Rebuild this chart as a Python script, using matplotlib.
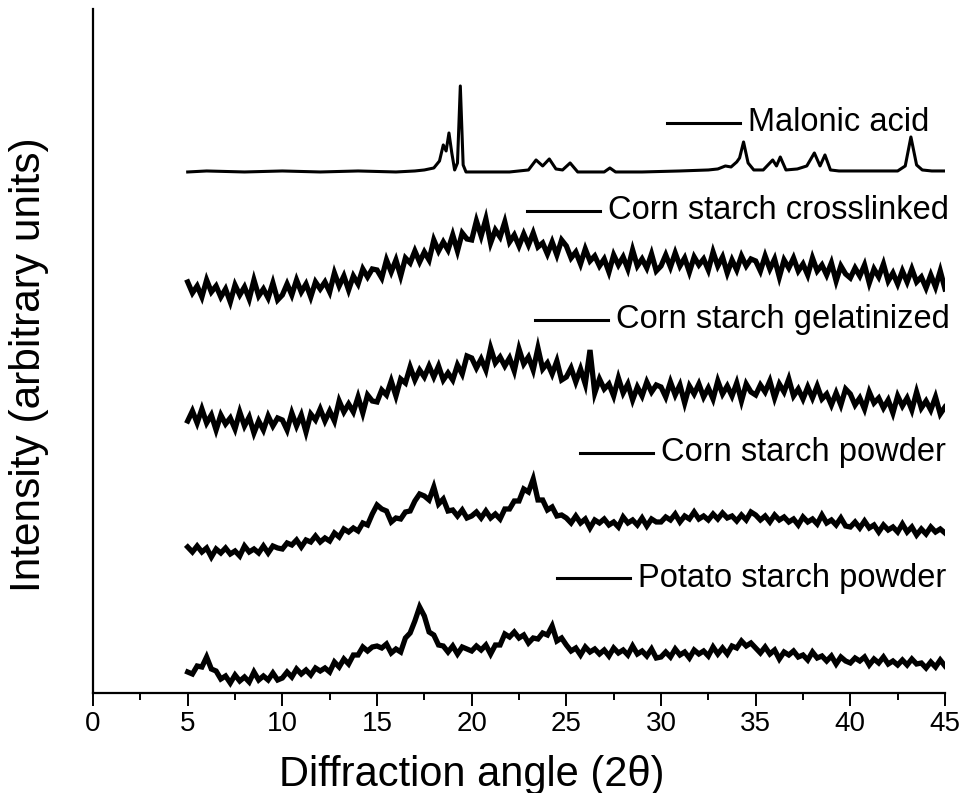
import numpy as np
import matplotlib
matplotlib.use("Agg")
import matplotlib.pyplot as plt

plt.rcParams['font.family'] = ['Liberation Sans', 'DejaVu Sans']

# Malonic acid (sharp peaks, irregular sampling)
malonic_x = [5, 6, 8, 10, 12, 14, 16, 17, 17.5, 18.0, 18.3, 18.5, 18.65, 18.8, 18.95, 19.1,
             19.25, 19.4, 19.55, 19.7, 20.0, 22.0, 23.0, 23.4, 23.75, 24.1, 24.45, 24.8, 25.2,
             25.6, 26.5, 27.0, 27.3, 27.6, 29, 31, 32.5, 33.0, 33.4, 33.7, 34.0, 34.15, 34.36,
             34.6, 34.9, 35.4, 35.9, 36.1, 36.3, 36.6, 37.2, 37.7, 38.1, 38.4, 38.66, 38.95,
             39.4, 41, 42.5, 42.9, 43.2, 43.5, 43.8, 44.3, 45]
malonic_y = [521, 522, 521, 522, 521, 522, 521, 522, 523, 525, 532, 548, 542, 560, 540, 523,
             530, 607, 528, 521, 521, 521, 523, 533, 527, 534, 524, 523, 530,
             521, 521, 521, 525, 521, 521, 522, 523, 524, 527, 526, 531, 535, 551,
             530, 523, 523, 533, 527, 536, 523, 524, 527, 540, 527, 538, 523,
             522, 522, 522, 527, 556, 528, 523, 522, 522]

# the other patterns are sampled every 0.25 degree from 5 to 45
two_theta = np.arange(5, 45.001, 0.25)

crosslinked = [
    411, 400, 407, 396, 413, 401, 407, 396, 404, 391, 408, 398, 406, 394, 413, 397, 404, 395, 410, 393,
    398, 409, 398, 413, 401, 409, 396, 411, 404, 411, 401, 420, 407, 417, 403, 417, 409, 424, 416, 424,
    423, 415, 433, 421, 433, 417, 435, 430, 442, 431, 441, 433, 453, 442, 451, 443, 458, 442, 460, 454,
    453, 472, 457, 474, 450, 463, 456, 471, 451, 458, 447, 459, 448, 460, 446, 450, 439, 451, 438, 453,
    447, 435, 441, 429, 444, 432, 437, 427, 434, 421, 438, 428, 436, 424, 443, 427, 434, 425, 439, 422,
    427, 438, 426, 440, 427, 435, 421, 436, 428, 434, 423, 441, 427, 436, 420, 433, 423, 437, 427, 434,
    432, 422, 437, 424, 434, 416, 433, 425, 435, 422, 429, 418, 435, 422, 428, 418, 430, 412, 427, 419,
    415, 425, 417, 428, 410, 424, 416, 429, 412, 420, 409, 422, 411, 424, 411, 416, 405, 418, 406, 422,
    404]

gelatinized = [
    272, 282, 270, 284, 270, 278, 263, 278, 269, 275, 264, 281, 267, 276, 260, 272, 263, 277, 267, 275,
    273, 263, 280, 267, 278, 261, 279, 273, 284, 272, 282, 272, 292, 281, 289, 281, 296, 280, 298, 292,
    291, 303, 298, 312, 297, 314, 310, 326, 313, 323, 316, 327, 316, 327, 313, 320, 313, 328, 319, 337,
    335, 325, 334, 323, 345, 330, 336, 327, 335, 322, 344, 329, 336, 323, 345, 324, 330, 319, 332, 313,
    316, 325, 311, 324, 309, 343, 300, 314, 304, 309, 297, 315, 300, 309, 293, 306, 297, 311, 301, 308,
    306, 296, 311, 298, 308, 290, 307, 299, 309, 296, 305, 294, 312, 299, 307, 297, 310, 292, 309, 301,
    298, 308, 301, 312, 295, 309, 301, 314, 297, 304, 294, 306, 295, 307, 294, 299, 288, 300, 288, 304,
    299, 288, 295, 284, 301, 290, 295, 285, 293, 280, 297, 287, 295, 283, 301, 285, 292, 283, 296, 279,
    286]

corn_powder = [
    146, 141, 147, 141, 145, 136, 144, 140, 145, 139, 142, 137, 147, 141, 144, 140, 147, 140, 147, 145,
    144, 150, 148, 153, 146, 153, 151, 157, 151, 155, 152, 160, 156, 164, 161, 165, 162, 170, 168, 179,
    188, 184, 182, 171, 175, 174, 181, 182, 192, 199, 197, 193, 206, 189, 194, 182, 183, 177, 183, 175,
    177, 181, 175, 182, 175, 179, 174, 184, 184, 192, 192, 204, 201, 214, 193, 193, 183, 186, 177, 178,
    175, 170, 177, 170, 174, 165, 173, 170, 174, 168, 171, 166, 176, 170, 173, 168, 175, 167, 174, 171,
    171, 176, 173, 179, 171, 177, 174, 181, 174, 177, 173, 179, 174, 180, 175, 177, 172, 178, 173, 181,
    178, 173, 177, 171, 178, 173, 176, 171, 174, 168, 176, 171, 174, 169, 178, 170, 173, 168, 175, 167,
    166, 171, 165, 172, 165, 168, 161, 168, 163, 166, 161, 169, 161, 166, 158, 164, 159, 166, 161, 164,
    160]

potato_powder = [
    21, 19, 27, 26, 36, 24, 22, 14, 17, 10, 18, 12, 16, 11, 21, 13, 17, 13, 20, 13,
    15, 21, 16, 24, 19, 23, 18, 25, 22, 25, 21, 31, 26, 34, 29, 38, 38, 46, 42, 46,
    47, 45, 49, 40, 44, 41, 55, 60, 72, 86, 77, 61, 58, 48, 47, 41, 47, 39, 46, 44,
    42, 47, 43, 48, 39, 48, 48, 59, 56, 61, 55, 58, 50, 55, 54, 60, 58, 67, 52, 55,
    48, 42, 45, 38, 46, 41, 44, 39, 43, 37, 45, 40, 43, 38, 47, 39, 42, 37, 44, 35,
    36, 41, 36, 44, 38, 41, 35, 43, 39, 42, 37, 46, 39, 45, 39, 47, 45, 52, 47, 50,
    45, 40, 46, 39, 43, 34, 41, 38, 42, 36, 38, 33, 41, 35, 37, 32, 37, 29, 36, 32,
    30, 35, 32, 36, 28, 34, 30, 36, 29, 32, 28, 33, 28, 34, 29, 30, 25, 31, 26, 33,
    27]

labels = ["Malonic acid", "Corn starch crosslinked", "Corn starch gelatinized",
          "Corn starch powder", "Potato starch powder"]

fig = plt.figure(figsize=(9.63, 7.93), dpi=100)
ax = fig.add_axes([0.0966, 0.1261, 0.8847, 0.8626])

ax.plot(malonic_x, malonic_y, color='black', lw=2.2)
for ys in [crosslinked, gelatinized, corn_powder, potato_powder]:
    ax.plot(two_theta, ys, color='black', lw=3.8, solid_joinstyle='miter')

# labels with a short line, as in the original figure (axes fraction coords)
label_pos = [(0.6736, 0.8333), (0.5096, 0.7047), (0.5188, 0.5453), (0.5718, 0.3509), (0.5447, 0.1681)]
for (lx, ly), txt in zip(label_pos, labels):
    ax.plot([lx, lx + 0.0857], [ly, ly], color='black', lw=2.2, transform=ax.transAxes)
    ax.text(lx + 0.0951, ly, txt, transform=ax.transAxes, ha='left', va='center', fontsize=23.5)

ax.set_xlim(0, 45)
ax.set_ylim(0, 684)
ax.set_xticks(np.arange(0, 46, 5))
ax.set_xticks(np.arange(2.5, 45, 5), minor=True)
ax.set_yticks([])
ax.tick_params(axis='x', which='major', direction='out', length=9, width=1.4, labelsize=20, pad=4)
ax.tick_params(axis='x', which='minor', direction='out', length=5, width=1.4)
for s in ['top', 'right']:
    ax.spines[s].set_visible(False)
for s in ['left', 'bottom']:
    ax.spines[s].set_linewidth(1.6)

ax.set_xlabel("Diffraction angle (2\u03b8)", fontsize=30)
ax.xaxis.set_label_coords(0.445, -0.09)
ax.set_ylabel("Intensity (arbitrary units)", fontsize=30.5)
ax.yaxis.set_label_coords(-0.052, 0.48)

fig.savefig("out.png", dpi=100)
